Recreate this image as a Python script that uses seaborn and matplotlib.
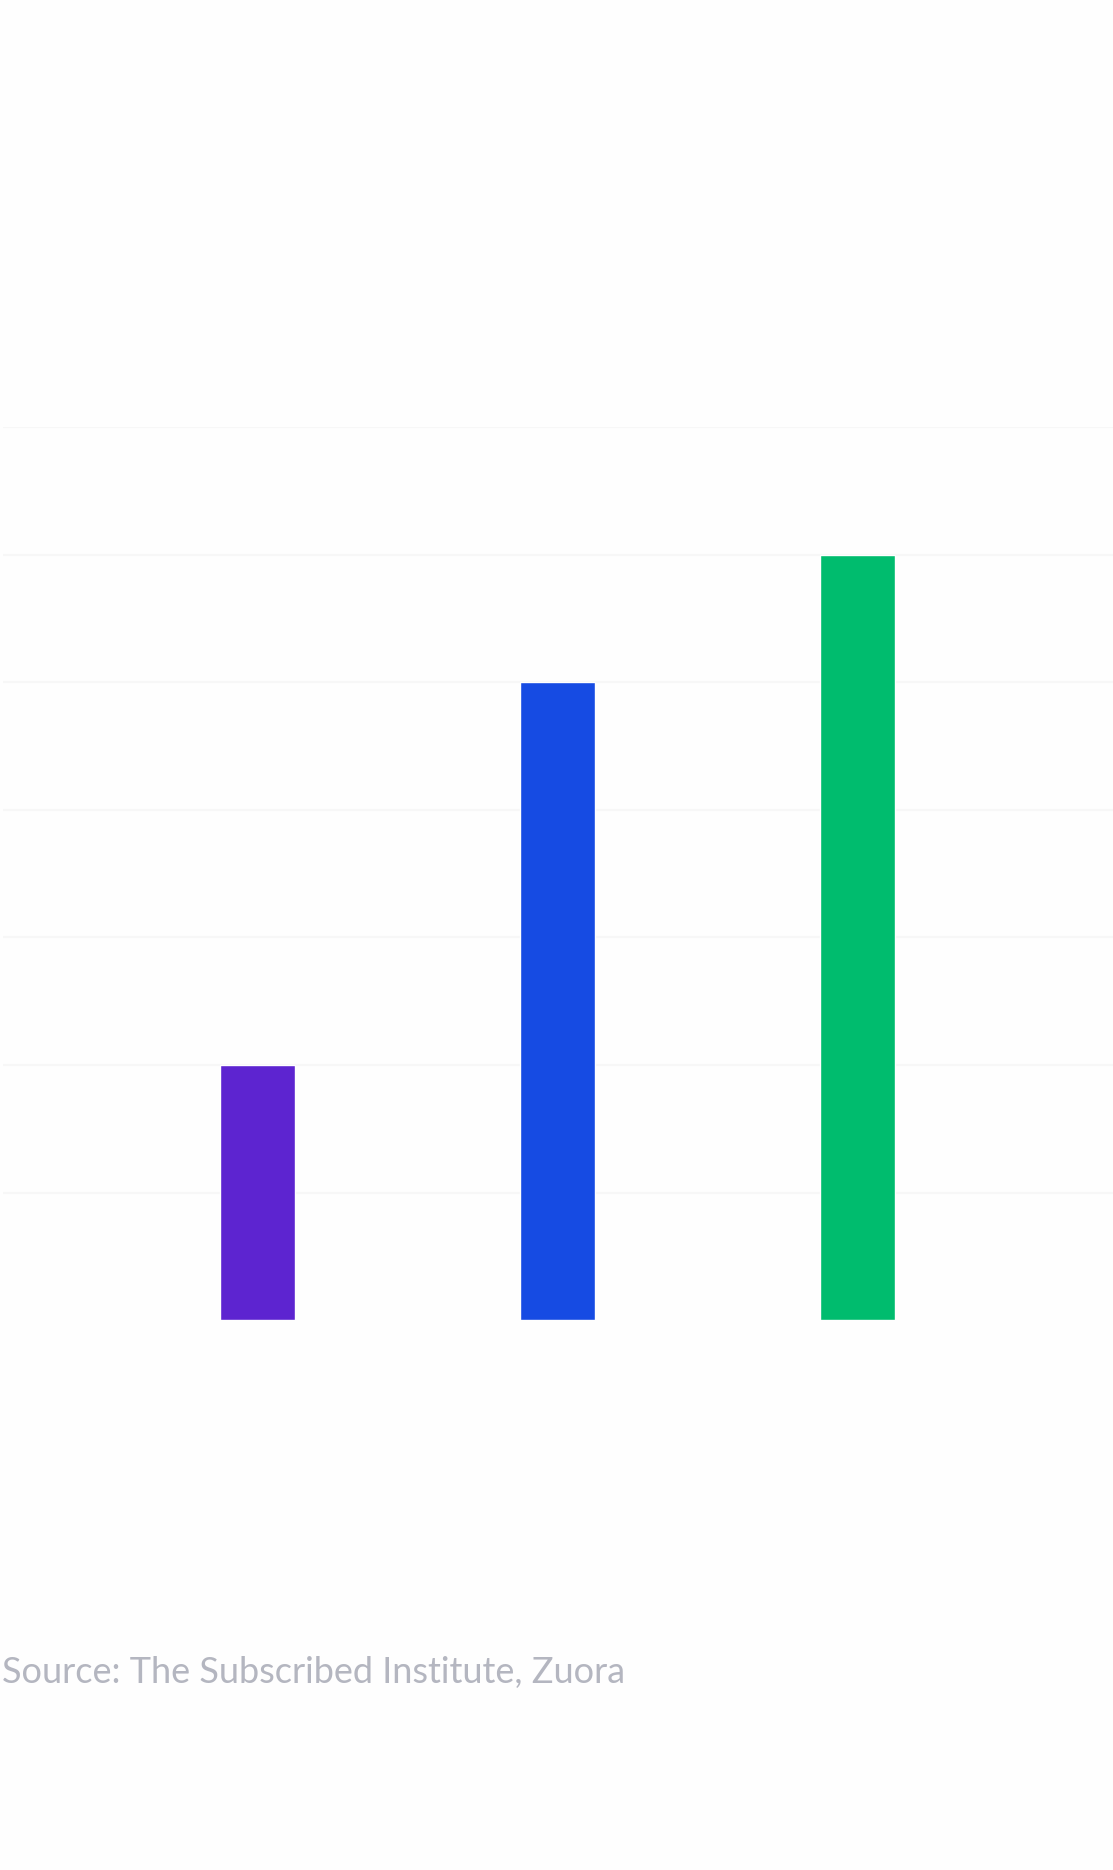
import matplotlib
matplotlib.use("Agg")
import matplotlib.pyplot as plt
import seaborn as sns
import pandas as pd

# ── Data (grid step = 1 unit) ───────────────────────────────────────────────
categories = ["Group 1", "Group 2", "Group 3"]
values     = [2, 5, 6]
colors     = ["#5D24D0", "#164BE3", "#00BC6E"]
grid_ticks = [1, 2, 3, 4, 5, 6, 7]
source     = "Source: The Subscribed Institute, Zuora"

df = pd.DataFrame({"category": categories, "value": values})

# ── Style ────────────────────────────────────────────────────────────────────
sns.set_theme(style="white")
plt.rcParams["font.family"] = ["Lato", "DejaVu Sans"]

W, H = 1113, 1870
fig = plt.figure(figsize=(W / 100, H / 100), dpi=100)
fig.patch.set_facecolor("#FEFEFE")
ax = fig.add_axes([3 / W, (H - 1320) / H, 1 - 3 / W, (1320 - 427.5) / H])
ax.set_facecolor("#FEFEFE")

sns.barplot(data=df, x="category", y="value", hue="category",
            palette=colors, width=0.25, saturation=1, legend=False, ax=ax)

ax.set_ylim(0, 7)
ax.set_xlim(-0.848, 2.852)
ax.set_yticks(grid_ticks)
ax.yaxis.grid(True, color="#F7F7F7", linewidth=1.6)
ax.set_axisbelow(True)
ax.tick_params(left=False, bottom=False, labelleft=False, labelbottom=False)
ax.set_xlabel("")
ax.set_ylabel("")
for s in ax.spines.values():
    s.set_visible(False)

fig.text(2 / W, (H - 1683) / H, source, fontsize=26, color="#B4B6C0",
         fontweight="normal", ha="left", va="baseline")

fig.savefig("out.png", dpi=100, facecolor=fig.get_facecolor())
